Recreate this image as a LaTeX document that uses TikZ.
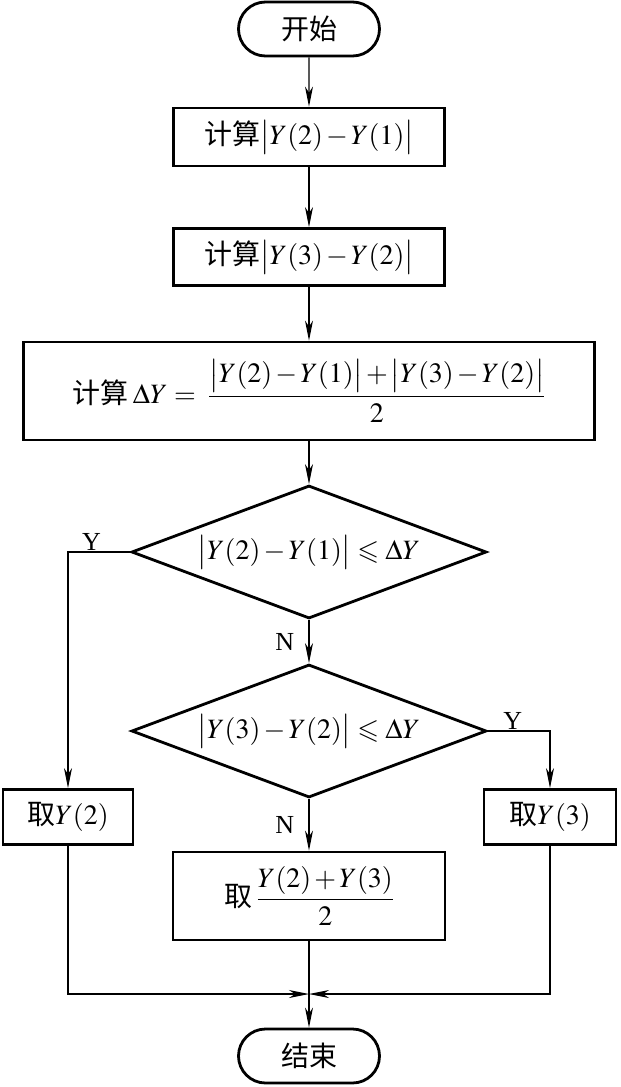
\documentclass[tikz,border=0pt]{standalone}
\usepackage{amsmath,amssymb}
\usepackage{mathptmx}
\usepackage{fontspec}
\setmainfont{Liberation Serif}
\newfontfamily\cjk{Noto Sans CJK SC}
\usetikzlibrary{arrows.meta,shapes.geometric,shapes.misc}
\AtBeginDocument{\medmuskip=2mu\relax}

\begin{document}
\begin{tikzpicture}[x=1pt,y=-1pt,
  font=\fontsize{28}{32}\selectfont,
  proc/.style={draw,line width=2.8pt,inner sep=0pt},
  term/.style={draw,line width=2.8pt,rounded rectangle,inner sep=0pt,
    minimum width=141pt,minimum height=54pt},
  test/.style={draw,line width=2.8pt,diamond,inner sep=0pt,aspect=2.67,
    minimum width=355pt,minimum height=133pt},
  flow/.style={line width=1.1pt,-{Stealth[length=20pt,width=8pt,inset=6pt]}},
  tag/.style={font=\fontsize{26}{30}\selectfont}]
  \useasboundingbox (0,0) rectangle (621,1087);
  % main column
  \node[term] (start) at (309,29) {\cjk 开始};
  \node[proc,minimum width=271pt,minimum height=58pt] (calc1) at (309,137)
    {{\cjk 计算}$\bigl|Y(2)-Y(1)\bigr|$};
  \node[proc,minimum width=271pt,minimum height=57pt] (calc2) at (309,257)
    {{\cjk 计算}$\bigl|Y(3)-Y(2)\bigr|$};
  \node[proc,minimum width=571pt,minimum height=98pt] (calc3) at (309,391)
    {{\cjk 计算}\,$\Delta Y=\;\dfrac{\bigl|Y(2)-Y(1)\bigr|+\bigl|Y(3)-Y(2)\bigr|}{2}$};
  \node[test] (dec1) at (309,552) {$\bigl|Y(2)-Y(1)\bigr|\leqslant\Delta Y$};
  \node[test] (dec2) at (309,731) {$\bigl|Y(3)-Y(2)\bigr|\leqslant\Delta Y$};
  % results
  \node[proc,minimum width=130pt,minimum height=55pt] (takeA) at (68,817) {{\cjk 取}$Y(2)$};
  \node[proc,minimum width=132pt,minimum height=55pt] (takeB) at (550,817) {{\cjk 取}$Y(3)$};
  \node[proc,minimum width=272pt,minimum height=88pt] (takeM) at (309,896)
    {{\cjk 取}\,$\dfrac{Y(2)+Y(3)}{2}$};
  \node[term] (end) at (309,1056) {\cjk 结束};
  \coordinate (join) at (309,994);

  \draw[flow] (start) -- (calc1);
  \draw[flow] (calc1) -- (calc2);
  \draw[flow] (calc2) -- (calc3);
  \draw[flow] (calc3) -- (dec1);
  \draw[flow] (dec1) -- node[tag,left=11pt] (n1) {N} (dec2);
  \draw[flow] (dec2) -- node[tag,left=11pt] (n2) {N} (takeM);
  \draw[flow] (dec1.west) -| node[tag,pos=0.31,above=-2pt] (y1) {Y} (takeA.north);
  \draw[flow] (dec2.east) -| node[tag,pos=0.2,above=-2pt] (y2) {Y} (takeB.north);
  \draw[flow] (takeA.south) |- (join);
  \draw[flow] (takeB.south) |- (join);
  \draw[flow] (takeM) -- (end);
\end{tikzpicture}
\end{document}
